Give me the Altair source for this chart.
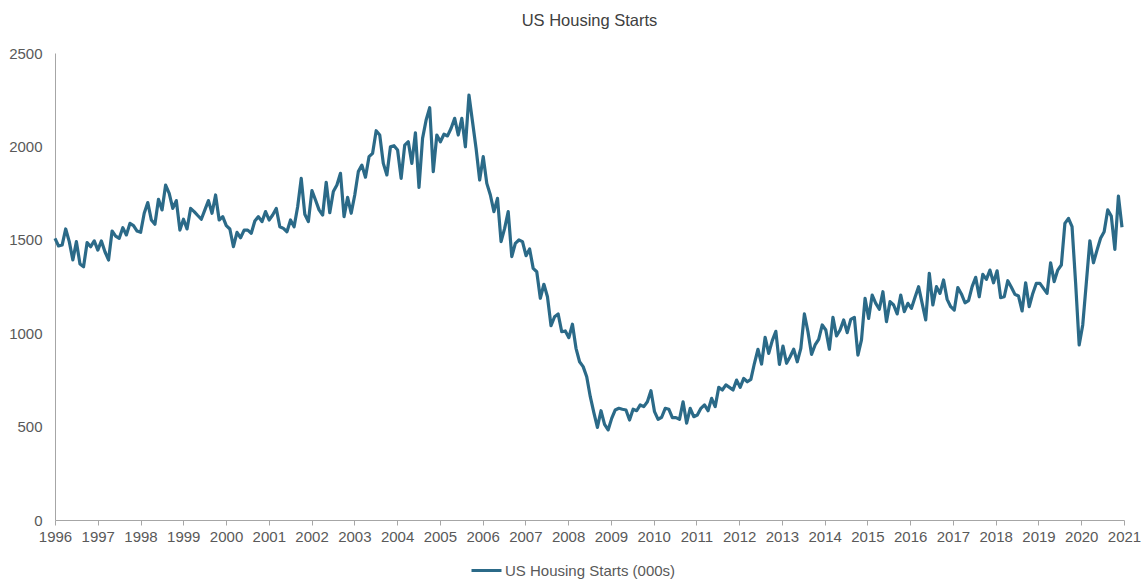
import altair as alt
import pandas as pd

chart_title = "US Housing Starts"
series_name = "US Housing Starts (000s)"
year_labels = [str(y) for y in range(1996, 2022)]
y_ticks = [0, 500, 1000, 1500, 2000, 2500]

# Monthly housing starts (thousands)
starts_1 = [1508, 1467, 1472, 1558, 1490, 1392, 1490, 1370, 1356, 1485,
            1463, 1494, 1445, 1494, 1436, 1392, 1547, 1520, 1508, 1565,
            1526, 1588, 1576, 1547, 1540, 1642, 1699, 1606, 1583, 1717,
            1660, 1793, 1749, 1668, 1710, 1552, 1610, 1558, 1668, 1651,
            1630, 1610, 1660, 1710, 1642, 1740, 1606, 1624, 1576, 1558,
            1463]
starts_2 = [1540, 1511, 1552, 1552, 1535, 1601, 1624, 1597, 1651, 1606,
            1633, 1668, 1570, 1561, 1543, 1606, 1570, 1677, 1829, 1637,
            1597, 1763, 1713, 1660, 1633, 1808, 1645, 1758, 1793, 1856,
            1624, 1727, 1642, 1740, 1865, 1900, 1835, 1945, 1963, 2084,
            2061, 1909, 1847, 1998, 2004, 1981, 1829, 2007, 2025, 1909]
starts_3 = [2073, 1781, 2043, 2141, 2207, 1865, 2061, 2025, 2065, 2056,
            2097, 2150, 2061, 2150, 1998, 2275, 2132, 1989, 1820, 1945,
            1802, 1740, 1651, 1722, 1490, 1561, 1651, 1410, 1481, 1499,
            1490, 1415, 1451, 1347, 1329, 1187, 1262, 1195, 1040, 1088,
            1103, 1008, 1012, 976, 1048, 919, 847, 821, 767]
starts_4 = [660, 575, 496,
            585, 512, 482, 544, 589, 598, 593, 589, 535, 593,
            585, 616, 607, 633, 692, 580, 539, 550, 598, 593,
            548, 548, 539, 633, 518, 598, 553, 562, 598, 616,
            585, 651, 607, 710, 696, 723, 710, 696, 749, 710,
            758, 740, 753, 839, 914, 835, 978, 892, 960, 1010]
starts_5 = [833, 931, 839, 874, 914, 847, 919, 1103, 1008, 887,
            937, 967, 1044, 1017, 914, 1085, 985, 1017, 1071, 1003,
            1074, 1085, 883, 964, 1187, 1079, 1204, 1160, 1128, 1222,
            1062, 1169, 1151, 1103, 1204, 1115, 1160, 1133, 1192, 1249,
            1160, 1071, 1321, 1151, 1249, 1213, 1285, 1181, 1142, 1124]
starts_6 = [1244, 1210, 1163, 1174, 1249, 1299, 1195, 1315, 1288, 1338,
            1270, 1334, 1190, 1195, 1281, 1246, 1208, 1199, 1119, 1270,
            1142, 1213, 1267, 1267, 1240, 1213, 1377, 1276, 1338, 1365,
            1588, 1615, 1570, 1270, 937, 1044, 1270, 1495, 1377, 1445,
            1508, 1543, 1660, 1627, 1449, 1734, 1567]

starts = starts_1 + starts_2 + starts_3 + starts_4 + starts_5 + starts_6
n = len(starts)

# category-style x axis: points spread evenly, year labels spaced evenly
span = (n - 1) * 1069 / 1067
tick_step = span / (len(year_labels) - 1)
tick_values = [k * tick_step for k in range(len(year_labels))]
label_expr = "[" + ",".join("'%s'" % y for y in year_labels) + "][round(datum.value / %f)]" % tick_step

df = pd.DataFrame({"idx": list(range(n)), "value": starts, "series": [series_name] * n})

FONT = "Liberation Sans"
AXIS_GREY = "#a6a6a6"
LABEL_GREY = "#595959"

chart = alt.Chart(df).mark_line(strokeWidth=3.2, strokeJoin="round").encode(
    x=alt.X("idx:Q",
            scale=alt.Scale(domain=[0, span], nice=False, zero=False),
            axis=alt.Axis(values=tick_values, labelExpr=label_expr, title=None, grid=False,
                          ticks=True, tickSize=5, tickColor=AXIS_GREY, domainColor=AXIS_GREY,
                          labelColor=LABEL_GREY, labelFont=FONT, labelFontSize=15,
                          labelPadding=4, labelFlush=False, labelOverlap=False)),
    y=alt.Y("value:Q",
            scale=alt.Scale(domain=[0, 2500], nice=False),
            axis=alt.Axis(values=y_ticks, format="d", title=None, grid=False, ticks=False,
                          domainColor=AXIS_GREY, labelColor=LABEL_GREY, labelFont=FONT,
                          labelFontSize=15, labelPadding=13)),
    color=alt.Color("series:N",
                    scale=alt.Scale(range=["#2b6a88"]),
                    legend=alt.Legend(title=None, orient="none", legendX=415, legendY=501,
                                      symbolType="stroke", symbolStrokeWidth=3, symbolSize=900,
                                      labelFont=FONT, labelFontSize=15, labelColor=LABEL_GREY,
                                      labelLimit=400, direction="horizontal", labelOffset=2)),
).properties(
    width=1069,
    height=467,
    title=alt.TitleParams(chart_title, fontSize=16.5, font=FONT, color="#404040",
                          fontWeight="normal", anchor="middle", offset=17),
    padding={"left": 55, "top": 53, "right": 18, "bottom": 61},
    autosize=alt.AutoSizeParams(type="none"),
).configure_view(stroke=None)

chart.save("out.html", embed_options={"renderer": "svg", "actions": False})
